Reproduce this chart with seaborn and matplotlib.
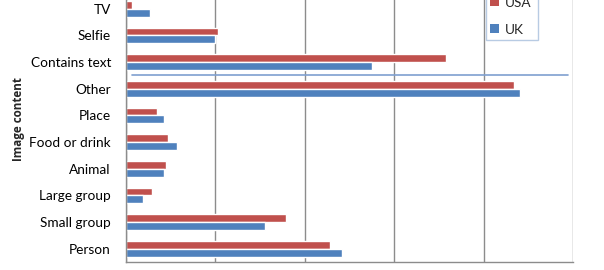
import matplotlib
matplotlib.use("Agg")
import matplotlib.pyplot as plt
import seaborn as sns
import pandas as pd
from matplotlib.patches import Patch

categories = ["TV", "Selfie", "Contains text", "Other", "Place", "Food or drink",
              "Animal", "Large group", "Small group", "Person"]
usa = [0.7, 10.3, 35.8, 43.4, 3.55, 4.8, 4.5, 3.0, 17.9, 22.8]
uk = [2.7, 10.0, 27.5, 44.0, 4.3, 5.7, 4.35, 2.0, 15.6, 24.2]
series = ["USA", "UK"]
colors = ["#C0504D", "#4F81BD"]
xticks = [0, 10, 20, 30, 40, 50]

df = pd.DataFrame({
    "Image content": categories * 2,
    "value": usa + uk,
    "Country": ["USA"] * len(categories) + ["UK"] * len(categories),
})

sns.set_style("white")
plt.rcParams["font.family"] = ["Lato", "DejaVu Sans"]

fig = plt.figure(figsize=(6.04, 2.70), dpi=100)
ax = fig.add_axes([125.5 / 604, 8 / 270, 447.8 / 604, 266.5 / 270])

sns.barplot(data=df, y="Image content", x="value", hue="Country",
            order=categories, hue_order=series, palette=colors,
            orient="h", width=0.59, ax=ax, legend=False, saturation=1)

ax.set_xlim(0, 50)
ax.set_ylim(len(categories) - 0.5, -0.5)
ax.set_xticks(xticks)
ax.tick_params(axis="x", length=4, color="#8C8C8C", labelbottom=False, direction="out")
ax.grid(axis="x", color="#8C8C8C", linewidth=1.0)
ax.set_axisbelow(True)
ax.set_xlabel("")

ax.set_yticks(range(len(categories)))
ax.set_yticklabels(categories, fontsize=9.8, color="black")
ax.tick_params(axis="y", which="major", length=0, pad=10.5)
ax.set_yticks([i - 0.5 for i in range(len(categories) + 1)], minor=True)
ax.tick_params(axis="y", which="minor", length=5, color="#8C8C8C", direction="out")

for s in ["top", "right"]:
    ax.spines[s].set_visible(False)
for s in ["left", "bottom"]:
    ax.spines[s].set_color("#8C8C8C")
    ax.spines[s].set_linewidth(1.0)

ax.set_ylabel("Image content", fontsize=8.4, fontweight="bold",
              family=["Open Sans", "DejaVu Sans"])
ax.yaxis.set_label_coords(-0.2244, 0.537)

# stray separator line drawn on the original chart
ax.axhline(2.5, xmin=0.014, xmax=0.9875, color="#7FA0D0", linewidth=1.2)

handles = [Patch(facecolor=c, edgecolor="none") for c in colors]
leg = fig.legend(handles, series, loc="lower left",
                 bbox_to_anchor=(485.7 / 604, 230 / 270, 52 / 604, 0.3),
                 mode="expand", frameon=True, fontsize=9.8,
                 handlelength=0.65, handleheight=0.65, handletextpad=0.45,
                 labelspacing=1.1, borderpad=0.33, borderaxespad=0,
                 fancybox=False)
leg.get_frame().set_edgecolor("#A7BEDD")
leg.get_frame().set_linewidth(1.0)

fig.savefig("out.png", dpi=100)
